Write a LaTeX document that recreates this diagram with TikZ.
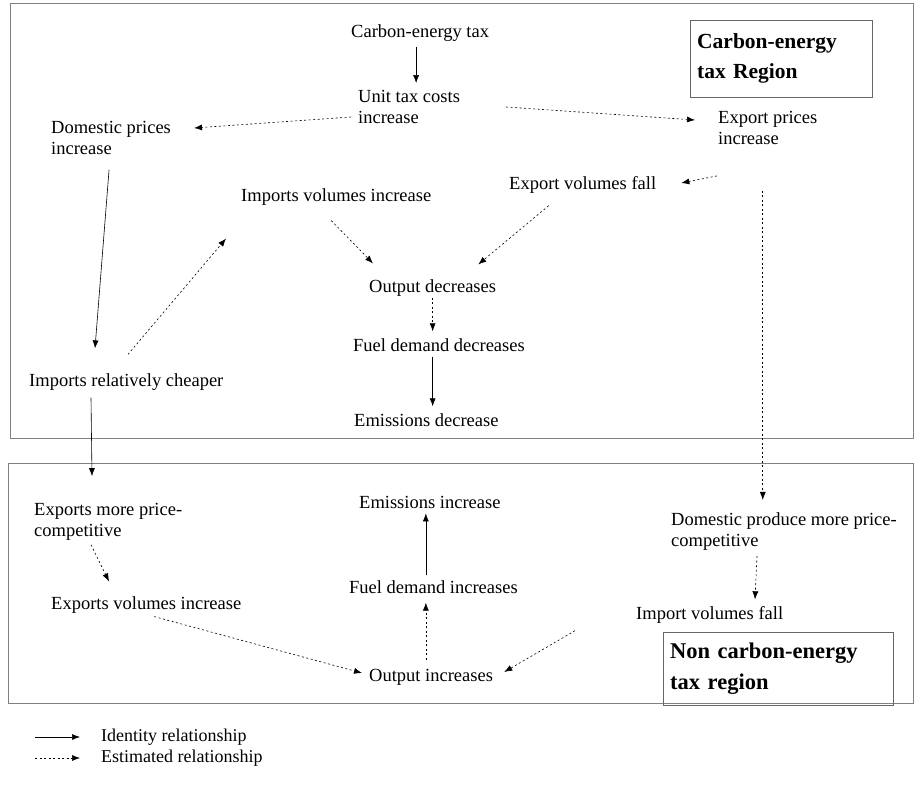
\documentclass[tikz,border=0pt]{standalone}
\usepackage{fontspec}
\setmainfont{Liberation Serif}
\usetikzlibrary{arrows.meta,calc}

\begin{document}
\begin{tikzpicture}[x=1pt,y=-1pt,%%
  identityStyle/.style={-{Latex[length=8pt,width=6pt]},semithick},%%
  estimatedStyle/.style={-{Latex[length=8pt,width=6pt]},semithick,dash pattern=on 2pt off 2.5pt},%%
  textStyle/.style={anchor=west,align=left,inner sep=1pt,font=\fontsize{18.5}{21}\selectfont},%%
  regionStyle/.style={draw=black!60,thin,anchor=north west,align=left,inner xsep=7pt,font=\bfseries\fontsize{21.5}{30}\selectfont},%%
  frameStyle/.style={draw=black!50,thin},%%
  legendStyle/.style={anchor=west,inner sep=1pt,font=\fontsize{18}{20}\selectfont}%%
]
%%
%%
\pgfmathsetmacro{\xleft}{10}
\pgfmathsetmacro{\xright}{913}
\pgfmathsetmacro{\ytop}{3}
\pgfmathsetmacro{\ymid}{438}
\pgfmathsetmacro{\ylow}{463}
\pgfmathsetmacro{\ybottom}{703}
%%
\useasboundingbox (0,0) rectangle (917,786);
%% Draw the two region frames.
\draw[frameStyle] (\xleft,\ytop) rectangle (\xright,\ymid);
\draw[frameStyle] (\xleft-2,\ylow) rectangle (\xright,\ybottom);
%% Nodes of the carbon-energy tax region.
\node[textStyle] (carbonTax) at (350,33) {Carbon-energy tax};
\node[textStyle] (unitCost) at (357,107) {Unit tax costs\\increase};
\node[textStyle] (domPrices) at (50,138) {Domestic prices\\increase};
\node[textStyle] (expPrices) at (717,128) {Export prices\\increase};
\node[textStyle] (impVol) at (240,197) {Imports volumes increase};
\node[textStyle] (expVol) at (508,185) {Export volumes fall};
\node[textStyle] (outDec) at (368,288) {Output decreases};
\node[textStyle] (fuelDec) at (352,345) {Fuel demand decreases};
\node[textStyle] (emDec) at (353,420) {Emissions decrease};
\node[textStyle] (impCheap) at (28,382) {Imports relatively cheaper};
\node[regionStyle,text width=168pt,minimum height=77pt] (regionTop) at (690,20) {Carbon-energy\\tax Region};
%% Nodes of the non carbon-energy tax region.
\node[textStyle] (expComp) at (33,522) {Exports more price-\\competitive};
\node[textStyle] (expVolInc) at (50,605) {Exports volumes increase};
\node[textStyle] (emInc) at (358,502) {Emissions increase};
\node[textStyle] (fuelInc) at (348,587) {Fuel demand increases};
\node[textStyle] (outInc) at (368,677) {Output increases};
\node[textStyle] (domComp) at (670,532) {Domestic produce more price-\\competitive};
\node[textStyle] (impFall) at (635,615) {Import volumes fall};
\node[regionStyle,text width=216pt,minimum height=73pt,font=\bfseries\fontsize{22.5}{31}\selectfont] (regionBot) at (663,632) {Non carbon-energy\\tax region};
%% Arrows in the carbon-energy tax region.
\draw[identityStyle] ($(carbonTax.south)+(-4,4)$) -- ($(carbonTax.south |- unitCost.north)+(-4,-6)$);
\draw[estimatedStyle] ($(unitCost.west)+(-6,10)$) -- ($(domPrices.east)+(22,-10)$);
\draw[estimatedStyle] ($(unitCost.east)+(45,0)$) -- ($(expPrices.west)+(-22,-8)$);
\draw[estimatedStyle] ($(expPrices.south west)+(0,30)$) -- ($(expVol.east)+(24,-2)$);
\draw[identityStyle] ($(domPrices.south)+(-2,14)$) -- ($(impCheap.north west)+(67,-24)$);
\draw[estimatedStyle] ($(impCheap.north west)+(100,-18)$) -- ($(impVol.south west)+(-14,32)$);
\draw[estimatedStyle] ($(impVol.south)+(-5,14)$) -- ($(outDec.north west)+(5,-15)$);
\draw[estimatedStyle] ($(expVol.south)+(-34,11)$) -- ($(outDec.north east)+(-19,-14)$);
\draw[estimatedStyle] (outDec.south) -- ($(outDec.south |- fuelDec.north)+(0,-6)$);
\draw[identityStyle] ($(outDec.south |- fuelDec.south)+(0,4)$) -- ($(outDec.south |- emDec.north)+(0,-6)$);
%% Arrows between the two regions.
\draw[identityStyle] ($(impCheap.south west)+(63,6)$) -- ($(expComp.north west)+(59,-26)$);
\draw[estimatedStyle] ($(expPrices.south)+(-5,45)$) -- ($(expPrices.south |- domComp.north)+(-5,-12)$);
%% Arrows in the non carbon-energy tax region.
\draw[estimatedStyle] ($(expComp.south west)+(58,3)$) -- ($(expVolInc.north west)+(59,-14)$);
\draw[estimatedStyle] ($(expVolInc.south)+(8,2)$) -- ($(outInc.west)+(-6,-4)$);
\draw[identityStyle] ($(emInc.south |- fuelInc.north)+(-4,-4)$) -- ($(emInc.south)+(-4,4)$);
\draw[estimatedStyle] ($(emInc.south |- outInc.north)+(-4,-8)$) -- ($(emInc.south |- fuelInc.south)+(-4,8)$);
\draw[estimatedStyle] ($(domComp.south west)+(87,4)$) -- ($(impFall.north west)+(120,-6)$);
\draw[estimatedStyle] ($(impFall.south west)+(-60,6)$) -- ($(outInc.east)+(10,-5)$);
%% Draw the legend.
\coordinate (identityA) at (35,737);
\coordinate (identityB) at (80,737);
\coordinate (estimatedA) at (35,758);
\coordinate (estimatedB) at (80,758);
\draw[identityStyle] (identityA) -- (identityB);
\draw[estimatedStyle] (estimatedA) -- (estimatedB);
\node[legendStyle] (identityText) at (100,737) {Identity relationship};
\node[legendStyle] (estimatedText) at (100,758) {Estimated relationship};
\end{tikzpicture}
\end{document}
